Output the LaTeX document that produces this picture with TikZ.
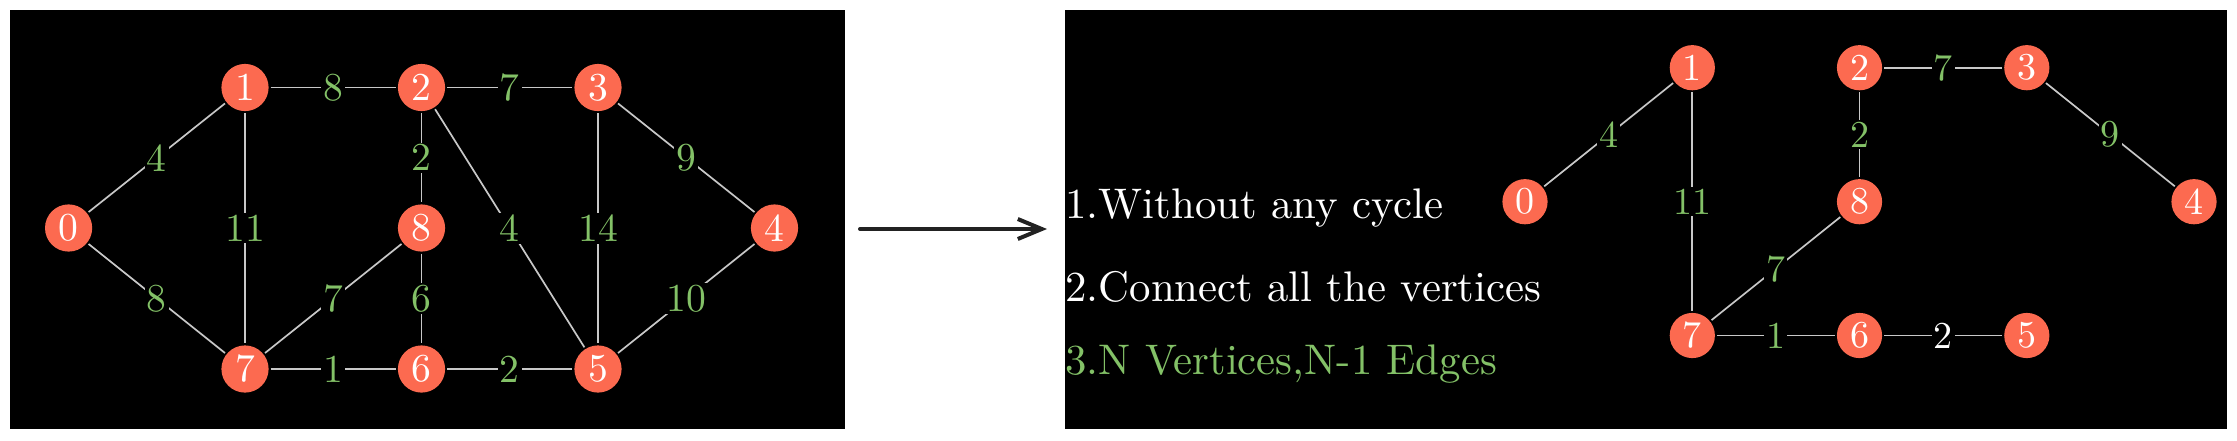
\documentclass[tikz,border=0pt]{standalone}
\usetikzlibrary{arrows.meta}
\definecolor{nodered}{RGB}{252,106,80}
\definecolor{lblgreen}{HTML}{83C167}
\definecolor{edgegray}{RGB}{200,200,200}
\definecolor{arrowdark}{RGB}{34,34,34}
\newcommand\digL[1]{\scalebox{1.98}{#1}}
\newcommand\digR[1]{\scalebox{1.9}{#1}}
\tikzset{
  vtx/.style={circle,fill=nodered,text=white,minimum size=23.6pt,inner sep=0pt,outer sep=1pt},
  vtxr/.style={vtx,minimum size=22.6pt},
  edge/.style={draw=edgegray,line width=0.85pt},
  wlbl/.style={fill=black,text=lblgreen,inner sep=1pt},
  wlblw/.style={wlbl,text=white},
  panel/.style={fill=black},
  txt/.style={anchor=base west,inner sep=0pt,text=white},
  bigarrow/.style={draw=arrowdark,line width=2pt,line cap=round,-{Straight Barb[length=12pt,width=10pt]}}
}
\begin{document}
\begin{tikzpicture}[x=0.5pt,y=-0.5pt]
\useasboundingbox (0,0) rectangle (2237,440);
\fill[white] (0,0) rectangle (2237,440);
\fill[panel] (10,10) rectangle (845,429);
\fill[panel] (1065,10) rectangle (2227,429);
% left graph
\node[vtx] (L0) at (68.6,228) {\digL{0}};
\node[vtx] (L1) at (245,87.5) {\digL{1}};
\node[vtx] (L2) at (421.5,87.5) {\digL{2}};
\node[vtx] (L3) at (598,87.5) {\digL{3}};
\node[vtx] (L4) at (774.5,228) {\digL{4}};
\node[vtx] (L8) at (421.5,228) {\digL{8}};
\node[vtx] (L7) at (245,369) {\digL{7}};
\node[vtx] (L6) at (421.5,369) {\digL{6}};
\node[vtx] (L5) at (598,369) {\digL{5}};
\draw[edge] (L0) -- node[wlbl]{\digL{4}} (L1);
\draw[edge] (L0) -- node[wlbl]{\digL{8}} (L7);
\draw[edge] (L1) -- node[wlbl]{\digL{8}} (L2);
\draw[edge] (L1) -- node[wlbl]{\digL{11}} (L7);
\draw[edge] (L2) -- node[wlbl]{\digL{7}} (L3);
\draw[edge] (L2) -- node[wlbl]{\digL{2}} (L8);
\draw[edge] (L2) -- node[wlbl]{\digL{4}} (L5);
\draw[edge] (L3) -- node[wlbl]{\digL{9}} (L4);
\draw[edge] (L3) -- node[wlbl]{\digL{14}} (L5);
\draw[edge] (L4) -- node[wlbl]{\digL{10}} (L5);
\draw[edge] (L8) -- node[wlbl]{\digL{7}} (L7);
\draw[edge] (L8) -- node[wlbl]{\digL{6}} (L6);
\draw[edge] (L7) -- node[wlbl]{\digL{1}} (L6);
\draw[edge] (L6) -- node[wlbl]{\digL{2}} (L5);
% arrow
\coordinate (arrS) at (860,229);
\coordinate (arrE) at (1047,229);
\draw[bigarrow] (arrS) -- (arrE);
% text
\node[txt] (t1) at (1065,218.3) {\scalebox{2.14}{1.Without any cycle}};
\node[txt] (t2) at (1065,301.7) {\scalebox{2.14}{2.Connect all the vertices}};
\node[txt,text=lblgreen] (t3) at (1065,374) {\scalebox{2.14}{3.N Vertices,N-1 Edges}};
% right graph
\node[vtxr] (R0) at (1525,201.7) {\digR{0}};
\node[vtxr] (R1) at (1692.3,67.7) {\digR{1}};
\node[vtxr] (R2) at (1859.5,67.7) {\digR{2}};
\node[vtxr] (R3) at (2026.8,67.7) {\digR{3}};
\node[vtxr] (R4) at (2194,201.7) {\digR{4}};
\node[vtxr] (R8) at (1859.5,201.7) {\digR{8}};
\node[vtxr] (R7) at (1692.3,335.5) {\digR{7}};
\node[vtxr] (R6) at (1859.5,335.5) {\digR{6}};
\node[vtxr] (R5) at (2026.8,335.5) {\digR{5}};
\draw[edge] (R0) -- node[wlbl]{\digR{4}} (R1);
\draw[edge] (R1) -- node[wlbl]{\digR{11}} (R7);
\draw[edge] (R2) -- node[wlbl]{\digR{7}} (R3);
\draw[edge] (R2) -- node[wlbl]{\digR{2}} (R8);
\draw[edge] (R3) -- node[wlbl]{\digR{9}} (R4);
\draw[edge] (R8) -- node[wlbl]{\digR{7}} (R7);
\draw[edge] (R7) -- node[wlbl]{\digR{1}} (R6);
\draw[edge] (R6) -- node[wlblw]{\digR{2}} (R5);
\end{tikzpicture}
\end{document}
